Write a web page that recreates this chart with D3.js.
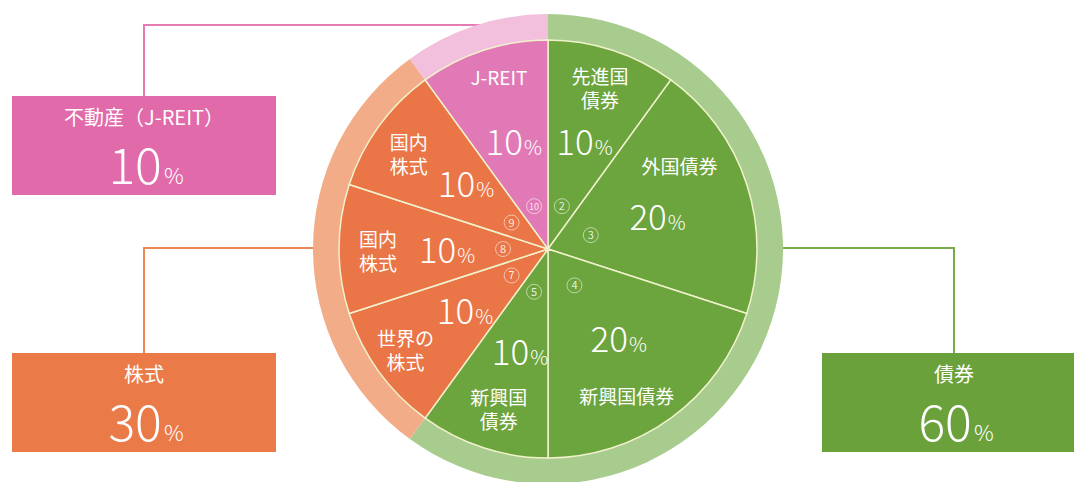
<!DOCTYPE html>
<html>
<head>
<meta charset="utf-8">
<script src="https://cdn.jsdelivr.net/npm/d3@7"></script>
<style>
  body { margin: 0; background: #fff; }
  svg { display: block; font-family: 'Noto Sans CJK JP', 'Noto Sans', sans-serif; }
</style>
</head>
<body>
<svg width="1074" height="482"></svg>
<script>
// data
var groupNames = ['債券', '株式', '不動産（J-REIT）']
var groupValues = [60, 30, 10]

var sliceNames = [['先進国', '債券'], ['外国債券'], ['新興国債券'], ['新興国', '債券'], ['世界の', '株式'], ['国内', '株式'], ['国内', '株式'], ['J-REIT']]
var sliceValues = [10, 20, 20, 10, 10, 10, 10, 10]
var sliceGroups = [0, 0, 0, 0, 1, 1, 1, 2]
var sliceBadges = ['2', '3', '4', '5', '7', '8', '9', '10']

// layout / style
var cx = 548
var cy = 249
var rPie = 209
var rRing = 235

var fillPie = ['#6ca43d', '#ea7546', '#e079b6']
var fillRing = ['#a8cc8e', '#f2ad88', '#f2c0dc']
var fillBox = ['#6ba13b', '#ea7a48', '#e16aab']
var lineCol = ['#79ab4d', '#ee8857', '#e57bb2']

// label polar positions (radius, angle in degrees) per slice
var nameR = [168, 155, 168, 168, 175, 170, 168, 178]
var nameA = [18, 58, 152, 197, 234.5, 269, 304, 344]
var numR = [112, 114, 115, 108, 104, 101, 104, 111]
var numA = [19, 74, 142, 195, 233, 269, 308, 342]

// boxes: x, y, width, height, connector elbow y
var boxes = [
  { x: 822, y: 353, w: 264, h: 99, elbowY: 248 },
  { x: 12, y: 353, w: 264, h: 99, elbowY: 248 },
  { x: 12, y: 96, w: 264, h: 99, elbowY: 25 }
]

var svg = d3.select('svg')

function polar (r, deg) {
  var a = deg * Math.PI / 180
  return [cx + r * Math.sin(a), cy - r * Math.cos(a)]
}

// connectors
var conGr = svg.append('g')
groupNames.forEach((g, i) => {
  var b = boxes[i]
  var bx = b.x + 132
  conGr.append('path')
    .attr('d', d3.line()([[bx, b.y], [bx, b.elbowY], [cx, b.elbowY]]))
    .style('fill', 'none')
    .style('stroke', lineCol[i])
    .style('stroke-width', 2)
})

// boxes
var boxGr = svg.append('g')
groupNames.forEach((g, i) => {
  var b = boxes[i]
  var bx = b.x + 132
  boxGr.append('rect')
    .attr('x', b.x).attr('y', b.y)
    .attr('width', b.w).attr('height', b.h)
    .style('fill', fillBox[i])
  boxGr.append('text')
    .attr('x', bx).attr('y', b.y + 29)
    .attr('text-anchor', 'middle')
    .style('fill', '#fff')
    .style('font-size', '20px')
    .text(g)
  var t = boxGr.append('text')
    .attr('x', bx + 2).attr('y', b.y + 88)
    .attr('text-anchor', 'middle')
    .style('fill', '#fff')
    .style('font-weight', 300)
  t.append('tspan').style('font-size', '50px').text(groupValues[i])
  t.append('tspan').attr('dx', 2).style('font-size', '22px').text('%')
})

var pieGr = svg.append('g')
  .attr('transform', 'translate(' + cx + ',' + cy + ')')

// outer ring
var ringArcs = d3.pie().sort(null)(groupValues)
var ringArc = d3.arc().innerRadius(rPie - 1).outerRadius(rRing)
pieGr.selectAll('path.ring')
  .data(ringArcs)
  .enter()
  .append('path')
  .attr('class', 'ring')
  .attr('d', ringArc)
  .style('fill', (d, i) => fillRing[i])

// slices
var sliceArcs = d3.pie().sort(null)(sliceValues)
var sliceArc = d3.arc().innerRadius(0).outerRadius(rPie)
pieGr.selectAll('path.slice')
  .data(sliceArcs)
  .enter()
  .append('path')
  .attr('class', 'slice')
  .attr('d', sliceArc)
  .style('fill', (d, i) => fillPie[sliceGroups[i]])
  .style('stroke', '#f1f2cc')
  .style('stroke-width', 1.5)

// badges
var badgeArc = d3.arc().innerRadius(45).outerRadius(45)
sliceArcs.forEach((d, i) => {
  var c = badgeArc.centroid(d)
  pieGr.append('circle')
    .attr('cx', c[0]).attr('cy', c[1]).attr('r', 7.5)
    .style('fill', 'none')
    .style('stroke', '#fff')
    .style('stroke-opacity', 0.55)
    .style('stroke-width', 1)
  pieGr.append('text')
    .attr('x', c[0]).attr('y', c[1] + 4)
    .attr('text-anchor', 'middle')
    .style('fill', '#fff')
    .style('fill-opacity', 0.85)
    .style('font-size', sliceBadges[i].length > 1 ? '9px' : '11px')
    .text(sliceBadges[i])
})

// slice labels
var labelGr = svg.append('g')
sliceArcs.forEach((d, i) => {
  var p = polar(nameR[i], nameA[i])
  var lines = sliceNames[i]
  var t = labelGr.append('text')
    .attr('text-anchor', 'middle')
    .style('fill', '#fff')
    .style('font-size', '19px')
  lines.forEach((s, j) => {
    t.append('tspan')
      .attr('x', p[0])
      .attr('y', p[1] + 7 - (lines.length - 1) * 12 + j * 24)
      .text(s)
  })

  var q = polar(numR[i], numA[i])
  var n = labelGr.append('text')
    .attr('x', q[0]).attr('y', q[1] + 12)
    .attr('text-anchor', 'middle')
    .style('fill', '#fff')
    .style('font-weight', 300)
  n.append('tspan').style('font-size', '35px').text(sliceValues[i])
  n.append('tspan').attr('dx', 1).style('font-size', '20px').text('%')
})
</script>
</body>
</html>
